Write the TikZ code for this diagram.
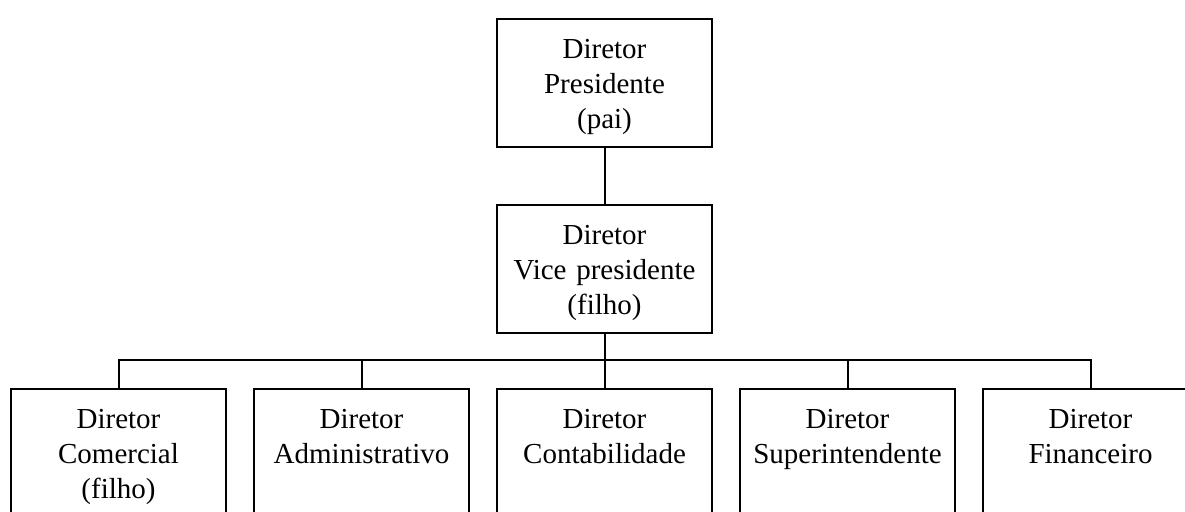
\documentclass[tikz,border=0pt]{standalone}
\usepackage{fontspec}
\setmainfont{Liberation Serif}
\usetikzlibrary{positioning}

\begin{document}
\begin{tikzpicture}[x=0.75pt,y=0.75pt,yscale=-1,xscale=1,
    cargo/.style={draw, line width=1.5pt, anchor=north, inner sep=0pt,
      minimum width=161.25pt, text width=150pt, align=center,
      text height=29.25pt, text depth=66.75pt,
      font=\fontsize{21.75}{26.25}\selectfont},
    elo/.style={line width=1.5pt}]
    %set diagram left start at 0, and has height of 511
    \useasboundingbox (0,0) rectangle (1185,511);
    \clip (0,0) rectangle (1185,511);

    % Text Node
    \node [cargo] (pres) at (604.5,18) {Diretor\\Presidente\\(pai)};
    % Text Node
    \node [cargo] (vice) at (604.5,204) {Diretor\\Vice presidente\\(filho)};
    % Text Node
    \node [cargo] (com) at (118.5,388) {Diretor\\Comercial\\(filho)};
    % Text Node
    \node [cargo] (adm) at (361.5,388) {Diretor\\Administrativo};
    % Text Node
    \node [cargo] (cont) at (604.5,388) {Diretor\\Contabilidade};
    % Text Node
    \node [cargo] (sup) at (847.5,388) {Diretor\\Superintendente};
    % Text Node
    \node [cargo] (fin) at (1090.5,388) {Diretor\\Financeiro};

    \coordinate (bus) at (604.5,360);

    %Straight Lines
    \draw [elo] (pres.south) -- (vice.north);
    %Straight Lines
    \draw [elo] (vice.south) -- (bus);
    %Straight Lines
    \draw [elo] (bus) -| (com.north);
    %Straight Lines
    \draw [elo] (bus) -| (adm.north);
    %Straight Lines
    \draw [elo] (bus) -- (cont.north);
    %Straight Lines
    \draw [elo] (bus) -| (sup.north);
    %Straight Lines
    \draw [elo] (bus) -| (fin.north);

\end{tikzpicture}
\end{document}
